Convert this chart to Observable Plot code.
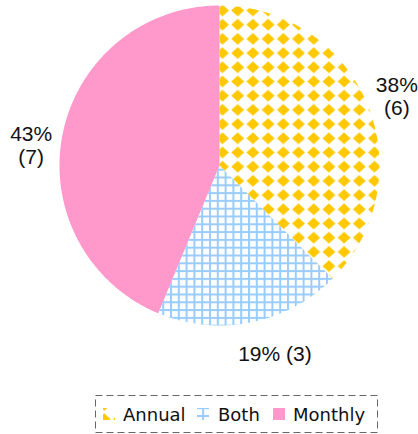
<!DOCTYPE html>
<html><head><meta charset="utf-8">
<script src="https://cdn.jsdelivr.net/npm/d3@7"></script>
<script src="https://cdn.jsdelivr.net/npm/@observablehq/plot@0.6"></script>
<style>
html,body{margin:0;padding:0;background:#fff;}
body{width:418px;height:434px;overflow:hidden;position:relative;font-family:"Liberation Sans",Arial,sans-serif;}
#chart{position:absolute;left:0;top:0;}
#legend{position:absolute;left:95px;top:395px;}
</style></head><body>
<div id="chart"></div>
<div id="legend"></div>
<script>
// ---- data ----
const categories = ["Annual", "Both", "Monthly"];
const counts = [6, 3, 7];
const percentLabels = ["38%", "19%", "43%"];
const colors = ["#ffc800", "#99ccff", "#ff99cc"];
const labelSeparators = ["\n", " ", "\n"];
// ---- styling (not data) ----
const labelRadius = 1.2;
const labelNudges = [[0, 4], [18, 0], [0, 17]];

const arcs = d3.pie().sort(null).value(d => d)(counts);

const sliceData = arcs.map((a, i) => {
  const pts = [{x: 0, y: 0}];
  const n = Math.max(4, Math.ceil((a.endAngle - a.startAngle) / (Math.PI / 360)));
  for (let k = 0; k <= n; k++) {
    const t = a.startAngle + (a.endAngle - a.startAngle) * k / n;
    pts.push({x: Math.sin(t), y: Math.cos(t)});
  }
  pts.push({x: 0, y: 0});
  return pts;
});

const labels = arcs.map((a, i) => {
  const m = (a.startAngle + a.endAngle) / 2;
  return {
    x: labelRadius * Math.sin(m),
    y: labelRadius * Math.cos(m),
    text: percentLabels[i] + labelSeparators[i] + "(" + counts[i] + ")"
  };
});

const marks = [];
sliceData.forEach((pts, i) => {
  marks.push(Plot.line(pts, {x: "x", y: "y", fill: `url(#pat-${categories[i]})`, stroke: "none", curve: "linear"}));
});
labels.forEach((l, i) => {
  marks.push(Plot.text([l], {x: "x", y: "y", text: "text", dx: labelNudges[i][0], dy: labelNudges[i][1],
    fontSize: 21, lineHeight: 1.1, fill: "#111", fontFamily: "'Liberation Sans', Arial, sans-serif"}));
});

const svg = Plot.plot({
  width: 418,
  height: 390,
  x: {domain: [-1, 1], range: [59, 379], axis: null},
  y: {domain: [-1, 1], range: [325, 5], axis: null},
  style: {background: "#fff", overflow: "visible", fontFamily: "'Liberation Sans', Arial, sans-serif"},
  marks
});

// patterns
const defs = d3.select(svg).insert("defs", ":first-child");
{
  const w = 15.2, h = 14.2;
  const p = defs.append("pattern").attr("id", "pat-Annual").attr("patternUnits", "userSpaceOnUse")
    .attr("x", 222 - w / 2).attr("y", 10 - h / 2).attr("width", w).attr("height", h);
  p.append("rect").attr("width", w).attr("height", h).attr("fill", "#fff");
  const rx = w * 0.42, ry = h * 0.42, cx = w / 2, cy = h / 2;
  p.append("path").attr("d", `M${cx},${cy - ry}L${cx + rx},${cy}L${cx},${cy + ry}L${cx - rx},${cy}Z`).attr("fill", colors[0]);
}
{
  const s = 7.8;
  const p = defs.append("pattern").attr("id", "pat-Both").attr("patternUnits", "userSpaceOnUse")
    .attr("x", 200.7).attr("y", 254).attr("width", s).attr("height", s);
  p.append("rect").attr("width", s).attr("height", s).attr("fill", "#fff");
  p.append("rect").attr("x", 0).attr("y", 0).attr("width", 2).attr("height", s).attr("fill", colors[1]);
  p.append("rect").attr("x", 0).attr("y", 0).attr("width", s).attr("height", 2).attr("fill", colors[1]);
}
{
  const p = defs.append("pattern").attr("id", "pat-Monthly").attr("patternUnits", "userSpaceOnUse")
    .attr("width", 10).attr("height", 10);
  p.append("rect").attr("width", 10).attr("height", 10).attr("fill", colors[2]);
}

document.getElementById("chart").appendChild(svg);

// legend
const lg = d3.select("#legend").append("svg").attr("width", 284).attr("height", 39);
lg.append("rect").attr("x", 0.5).attr("y", 0.5).attr("width", 282).attr("height", 37)
  .attr("fill", "none").attr("stroke", "#666").attr("stroke-dasharray", "7,4");
const swX = [8, 102, 178];
const txX = [28, 123, 198];
categories.forEach((c, i) => {
  lg.append("rect").attr("x", swX[i]).attr("y", 13).attr("width", 12).attr("height", 12)
    .attr("fill", `url(#pat-${c})`);
  lg.append("text").attr("x", txX[i]).attr("y", 26).text(c)
    .attr("font-family", "DejaVu Sans, sans-serif").attr("font-size", 18).attr("fill", "#111");
});
</script>
</body></html>
